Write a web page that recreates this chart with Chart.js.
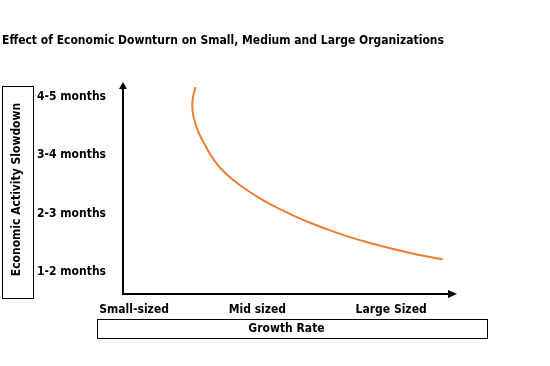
<!DOCTYPE html>
<html>
<head>
<meta charset="utf-8">
<title>Effect of Economic Downturn</title>
<script src="https://cdn.jsdelivr.net/npm/chart.js@4"></script>
<style>
    html, body { margin: 0; padding: 0; background: #fff; }
    #chart { display: block; }
</style>
</head>
<body>
<canvas id="chart" width="550" height="366"></canvas>
<script>
// data
const growthValues = [2.22, 2.14, 2.12, 2.16, 2.30, 2.51, 2.66, 2.81, 2.97, 3.27, 3.58, 3.88,
                      4.19, 4.50, 4.80, 5.26, 5.72, 6.33, 6.94, 7.55, 8.17, 8.78, 9.39, 9.78];
const slowdownValues = [4.16, 3.99, 3.82, 3.65, 3.40, 3.17, 3.02, 2.894, 2.783, 2.62, 2.484, 2.367,
                        2.258, 2.160, 2.073, 1.951, 1.841, 1.710, 1.594, 1.493, 1.403, 1.324, 1.254, 1.215];

const sizeLabels = ["Small-sized", "Mid sized", "Large Sized"];
const sizeTicks = [0.34, 4.11, 8.2];

const monthLabels = ["1-2 months", "2-3 months", "3-4 months", "4-5 months"];
const monthTicks = [1, 2, 3, 4];

const FONT = "'DejaVu Sans Condensed', 'DejaVu Sans', sans-serif";
const FONT_SIZE = 12;

const points = growthValues.map((x, i) => ({ x: x, y: slowdownValues[i] }));

// arrows on the axes + boxes round the axis titles
const axisDecor = {
    id: "axisDecor",
    afterDraw(chart) {
        const ctx = chart.ctx;
        const area = chart.chartArea;
        ctx.save();
        ctx.fillStyle = "#000";
        // y arrow
        ctx.beginPath();
        ctx.moveTo(area.left - 4, area.top + 4);
        ctx.lineTo(area.left + 4, area.top + 4);
        ctx.lineTo(area.left, area.top - 3);
        ctx.closePath();
        ctx.fill();
        // x arrow
        ctx.beginPath();
        ctx.moveTo(area.right - 2, area.bottom - 4);
        ctx.lineTo(area.right - 2, area.bottom + 4);
        ctx.lineTo(area.right + 7, area.bottom);
        ctx.closePath();
        ctx.fill();

        ctx.strokeStyle = "#000";
        ctx.lineWidth = 1;
        ctx.strokeRect(2.5, 86.5, 31, 212);
        ctx.strokeRect(97.5, 319.5, 390, 19);
        ctx.restore();
    }
};

new Chart(document.getElementById("chart"), {
    type: "scatter",
    data: {
        datasets: [{
            data: points,
            showLine: true,
            borderColor: "#ED7D31",
            borderWidth: 2,
            pointRadius: 0,
            tension: 0.4,
            fill: false
        }]
    },
    options: {
        responsive: false,
        devicePixelRatio: 1,
        animation: false,
        layout: { padding: { left: 2, right: 100, top: 0, bottom: 0 } },
        plugins: {
            legend: { display: false },
            tooltip: { enabled: false },
            title: {
                display: true,
                text: "Effect of Economic Downturn on Small, Medium and Large Organizations",
                align: "start",
                color: "#000",
                font: { family: FONT, size: FONT_SIZE, weight: "bold" },
                padding: { top: 34, bottom: 36.6 }
            }
        },
        scales: {
            x: {
                type: "linear",
                min: 0,
                max: 10,
                grid: { color: "transparent", drawTicks: false },
                border: { display: true, color: "#000", width: 2 },
                afterBuildTicks: (scale) => {
                    scale.ticks = sizeTicks.map(v => ({ value: v }));
                },
                afterFit: (scale) => { scale.height = 72; },
                ticks: {
                    color: "#000",
                    padding: 9,
                    maxRotation: 0,
                    autoSkip: false,
                    font: { family: FONT, size: FONT_SIZE, weight: "bold" },
                    callback: (v) => sizeLabels[sizeTicks.indexOf(v)]
                },
                title: {
                    display: true,
                    text: "Growth Rate",
                    color: "#000",
                    font: { family: FONT, size: FONT_SIZE, weight: "bold" },
                    padding: { top: 0, bottom: 30 }
                }
            },
            y: {
                type: "linear",
                min: 0.62,
                max: 4.2,
                grid: { color: "transparent", drawTicks: false },
                border: { display: true, color: "#000", width: 2 },
                afterBuildTicks: (scale) => {
                    scale.ticks = monthTicks.map(v => ({ value: v }));
                },
                afterFit: (scale) => { scale.width = 121; },
                ticks: {
                    color: "#000",
                    padding: 17,
                    autoSkip: false,
                    font: { family: FONT, size: FONT_SIZE, weight: "bold" },
                    callback: (v) => monthLabels[monthTicks.indexOf(v)]
                },
                title: {
                    display: true,
                    text: "Economic Activity Slowdown",
                    color: "#000",
                    font: { family: FONT, size: FONT_SIZE, weight: "bold" },
                    padding: { top: 8, bottom: 0 }
                }
            }
        }
    },
    plugins: [axisDecor]
});
</script>
</body>
</html>
